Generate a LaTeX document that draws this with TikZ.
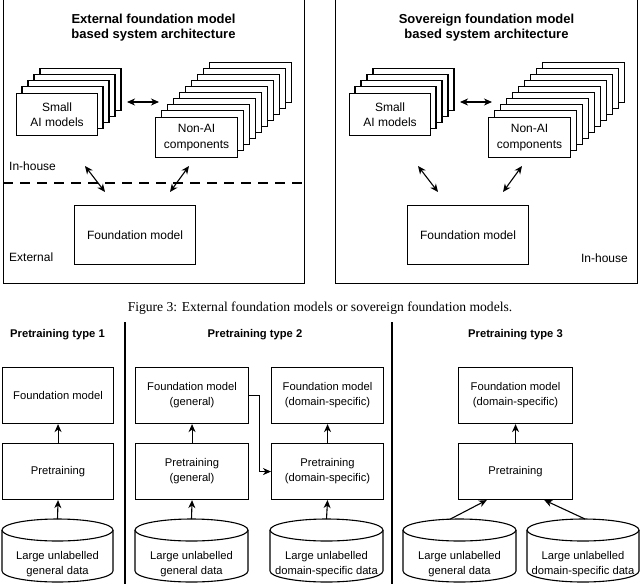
\documentclass[tikz,border=0pt]{standalone}
\usepackage{fontspec}
\setmainfont{Liberation Sans}
\newfontfamily\capfont{Liberation Serif}
\usetikzlibrary{arrows.meta,calc}

\newcommand\mycyl[4]{%
  \pgfmathsetmacro\cx{(#2+#3)/2}%
  \pgfmathsetmacro\rx{(#3-#2)/2}%
  \draw[line, fill=white] (#2,530) -- (#2,571) arc[start angle=180,end angle=360,x radius=\rx pt,y radius=11pt] -- (#3,530);
  \draw[line] (\cx,530) ellipse[x radius=\rx pt, y radius=11pt];
  \coordinate (#1) at (\cx,519);
  \node[lbltwo] (#1-t) at (\cx,564) {#4};
}

\begin{document}
\begin{tikzpicture}[x=1pt,y=-1pt,
  line/.style={line width=1.1pt},
  frame/.style={draw, line width=1.2pt, inner sep=0pt, anchor=north west},
  box/.style={draw, line width=1.1pt, fill=white, inner sep=0pt, align=center, anchor=north west,
    font=\fontsize{12}{15.5}\selectfont},
  boxtwo/.style={draw, line width=1.1pt, fill=white, inner sep=0pt, align=center, anchor=north west,
    font=\fontsize{11.2}{15}\selectfont},
  lbltwo/.style={inner sep=0pt, align=center, font=\fontsize{11.2}{14.5}\selectfont},
  ttl/.style={inner sep=0pt, align=center, font=\bfseries\fontsize{13}{15}\selectfont},
  ttltwo/.style={inner sep=0pt, align=center, font=\bfseries\fontsize{11.2}{14}\selectfont},
  zone/.style={inner sep=0pt, font=\fontsize{12}{14}\selectfont},
  arr/.style={line width=1.1pt, -{Stealth[length=8pt,width=7pt,inset=2.5pt]}},
  arrtwo/.style={line width=1.1pt, {Stealth[length=8pt,width=7pt,inset=2.5pt]}-{Stealth[length=8pt,width=7pt,inset=2.5pt]}},
  sep/.style={line width=1.6pt}
]
\useasboundingbox (0,0) rectangle (640,584);

% ===== Top left panel =====
\node[frame, minimum width=301pt, minimum height=288pt] (lframe) at (3,-5) {};
\node[ttl] (ltitle) at (153.5,27.5) {External foundation model\\based system architecture};
\foreach \i in {4,...,1} \draw[line, fill=white] (16+6*\i, 93-6.2*\i) rectangle ++(81,42);
\node[box, minimum width=81pt, minimum height=42pt] (lsmall) at (16,93) {Small\\AI models};
\foreach \i in {9,...,1} \draw[line, fill=white] (155+6.1*\i, 117-6.1*\i) rectangle ++(82,40);
\node[box, minimum width=82pt, minimum height=40pt] (lnonai) at (155,117) {Non-AI\\components};
\node[box, minimum width=121pt, minimum height=59pt] (lfm) at (74,205) {Foundation model};
\coordinate (dl1) at (3,183); \coordinate (dl2) at (304,183);
\draw[line, dash pattern=on 10pt off 7pt] (dl1) -- (dl2);
\node[zone, anchor=west] (linhouse) at (9,166) {In-house};
\node[zone, anchor=west] (lext) at (9,257) {External};
\coordinate (lh1) at (127,102); \coordinate (lh2) at (159,102);
\coordinate (la1) at (85,166); \coordinate (la2) at (105,192);
\coordinate (lb1) at (189,166); \coordinate (lb2) at (170,192);
\draw[arrtwo] (lh1) -- (lh2);
\draw[arrtwo] (la1) -- (la2);
\draw[arrtwo] (lb1) -- (lb2);

% ===== Top right panel =====
\node[frame, minimum width=302pt, minimum height=288pt] (rframe) at (335,-5) {};
\node[ttl] (rtitle) at (486.5,27.5) {Sovereign foundation model\\based system architecture};
\foreach \i in {4,...,1} \draw[line, fill=white] (349+6*\i, 93-6.2*\i) rectangle ++(81,42);
\node[box, minimum width=81pt, minimum height=42pt] (rsmall) at (349,93) {Small\\AI models};
\foreach \i in {9,...,1} \draw[line, fill=white] (488+6.1*\i, 117-6.1*\i) rectangle ++(82,40);
\node[box, minimum width=82pt, minimum height=40pt] (rnonai) at (488,117) {Non-AI\\components};
\node[box, minimum width=121pt, minimum height=59pt] (rfm) at (407,205) {Foundation model};
\node[zone, anchor=east] (rinhouse) at (628,258) {In-house};
\coordinate (rh1) at (460,102); \coordinate (rh2) at (492,102);
\coordinate (ra1) at (418,166); \coordinate (ra2) at (438,192);
\coordinate (rb1) at (522,166); \coordinate (rb2) at (503,192);
\draw[arrtwo] (rh1) -- (rh2);
\draw[arrtwo] (ra1) -- (ra2);
\draw[arrtwo] (rb1) -- (rb2);

% ===== Caption =====
\node[inner sep=0pt, font=\capfont\fontsize{13.6}{16}\selectfont] (cap) at (320,308)
  {Figure 3: External foundation models or sovereign foundation models.};

% ===== Bottom: separators =====
\coordinate (s1a) at (125,322); \coordinate (s1b) at (125,584);
\coordinate (s2a) at (392,322); \coordinate (s2b) at (392,584);
\draw[sep] (s1a) -- (s1b);
\draw[sep] (s2a) -- (s2b);

% ===== Type 1 =====
\node[ttltwo] (t1) at (57.5,335) {Pretraining type 1};
\node[boxtwo, minimum width=111pt, minimum height=56pt] (fm1) at (2,367) {Foundation model};
\node[boxtwo, minimum width=111pt, minimum height=56pt] (pt1) at (2,443) {Pretraining};
\mycyl{c1}{2}{113}{Large unlabelled\\general data}
\draw[arr] (c1) -- (pt1.south);
\draw[arr] (pt1.north) -- (fm1.south);

% ===== Type 2 =====
\node[ttltwo] (t2) at (255,335) {Pretraining type 2};
\node[boxtwo, minimum width=113pt, minimum height=56pt] (fm2a) at (135,367) {Foundation model\\(general)};
\node[boxtwo, minimum width=113pt, minimum height=56pt] (pt2a) at (135,443) {Pretraining\\(general)};
\node[boxtwo, minimum width=112pt, minimum height=56pt] (fm2b) at (271,367) {Foundation model\\(domain-specific)};
\node[boxtwo, minimum width=112pt, minimum height=56pt] (pt2b) at (271,443) {Pretraining\\(domain-specific)};
\mycyl{c2a}{135}{248}{Large unlabelled\\general data}
\mycyl{c2b}{270}{383}{Large unlabelled\\domain-specific data}
\draw[arr] (c2a) -- (pt2a.south);
\draw[arr] (pt2a.north) -- (fm2a.south);
\draw[arr] (c2b) -- (pt2b.south);
\draw[arr] (pt2b.north) -- (fm2b.south);
\draw[arr] (fm2a.east) -- ++(10,0) |- (pt2b.west);

% ===== Type 3 =====
\node[ttltwo] (t3) at (515.5,335) {Pretraining type 3};
\node[boxtwo, minimum width=114pt, minimum height=56pt] (fm3) at (458,367) {Foundation model\\(domain-specific)};
\node[boxtwo, minimum width=114pt, minimum height=56pt] (pt3) at (458,443) {Pretraining};
\mycyl{c3a}{403}{516}{Large unlabelled\\general data}
\mycyl{c3b}{527}{639}{Large unlabelled\\domain-specific data}
\coordinate (c3as) at ($(c3a)+(-10,0.5)$);
\coordinate (c3bs) at ($(c3b)+(2,0)$);
\draw[arr] (c3as) -- ($(pt3.south west)!0.25!(pt3.south east)$);
\draw[arr] (c3bs) -- ($(pt3.south west)!0.75!(pt3.south east)$);
\draw[arr] (pt3.north) -- (fm3.south);
\end{tikzpicture}
\end{document}
